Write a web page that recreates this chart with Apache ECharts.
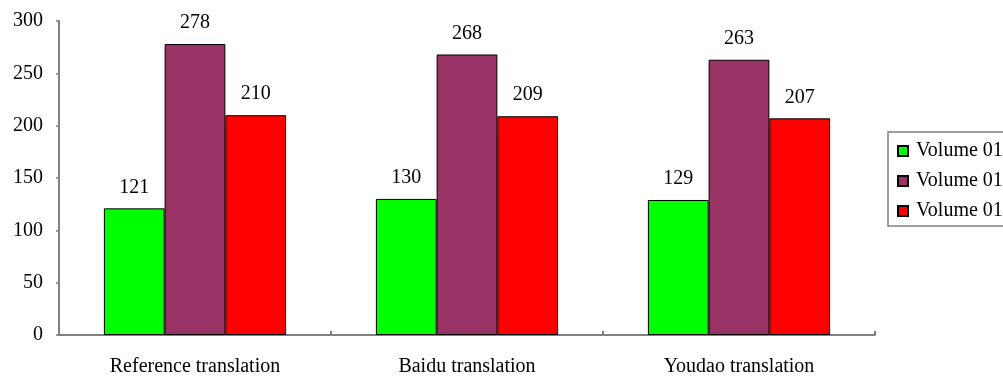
<!DOCTYPE html>
<html>
<head>
<meta charset="utf-8">
<script src="https://cdn.jsdelivr.net/npm/echarts@6/dist/echarts.min.js"></script>
<style>
html,body{margin:0;padding:0;background:#fff;}
#chart{width:1003px;height:378px;}
</style>
</head>
<body>
<div id="chart"></div>
<script>
var categories = ['Reference translation', 'Baidu translation', 'Youdao translation'];
var seriesKeys = ['s1', 's2', 's3'];
var legendLabels = ['Volume 01', 'Volume 01', 'Volume 01'];
var series1 = [121, 130, 129];
var series2 = [278, 268, 263];
var series3 = [210, 209, 207];
var yTicks = [0, 50, 100, 150, 200, 250, 300];

var colors = ['#00ff00', '#993366', '#ff0000'];
var values = [series1, series2, series3];
var FONT = 'Liberation Serif';

var chart = echarts.init(document.getElementById('chart'), null, {renderer: 'canvas'});
chart.setOption({
  animation: false,
  backgroundColor: '#ffffff',
  grid: {left: 59, right: 128, top: 21, bottom: 43, containLabel: false},
  legend: {
    orient: 'vertical',
    left: 888,
    top: 132,
    data: seriesKeys,
    formatter: function (name) { return legendLabels[seriesKeys.indexOf(name)]; },
    itemWidth: 10,
    itemHeight: 10,
    itemGap: 10,
    padding: [9, 40, 5, 9],
    borderColor: '#808080',
    borderWidth: 1.5,
    borderRadius: 0,
    icon: 'rect',
    selectedMode: false,
    textStyle: {fontFamily: FONT, fontSize: 20, color: '#000', padding: [0, 0, 0, 3]}
  },
  xAxis: {
    type: 'category',
    data: categories,
    axisLine: {lineStyle: {color: '#808080', width: 2}},
    axisTick: {show: true, inside: true, length: 4, alignWithLabel: false, lineStyle: {color: '#808080', width: 2}},
    axisLabel: {fontFamily: FONT, fontSize: 20, color: '#000', margin: 22},
    splitLine: {show: false}
  },
  yAxis: {
    type: 'value',
    min: yTicks[0],
    max: yTicks[yTicks.length - 1],
    interval: yTicks[1] - yTicks[0],
    axisLine: {show: true, lineStyle: {color: '#808080', width: 2}},
    axisTick: {show: true, length: 3, lineStyle: {color: '#808080', width: 1.5}},
    axisLabel: {fontFamily: FONT, fontSize: 20, color: '#000', margin: 16},
    splitLine: {show: false}
  },
  series: seriesKeys.map(function (k, i) {
    return {
      name: k,
      type: 'bar',
      data: values[i],
      barGap: '0%',
      barCategoryGap: '33%',
      itemStyle: {color: colors[i], borderColor: '#000', borderWidth: 1},
      label: {show: true, position: 'top', distance: 11, fontFamily: FONT, fontSize: 20, color: '#000'}
    };
  })
});
</script>
</body>
</html>
